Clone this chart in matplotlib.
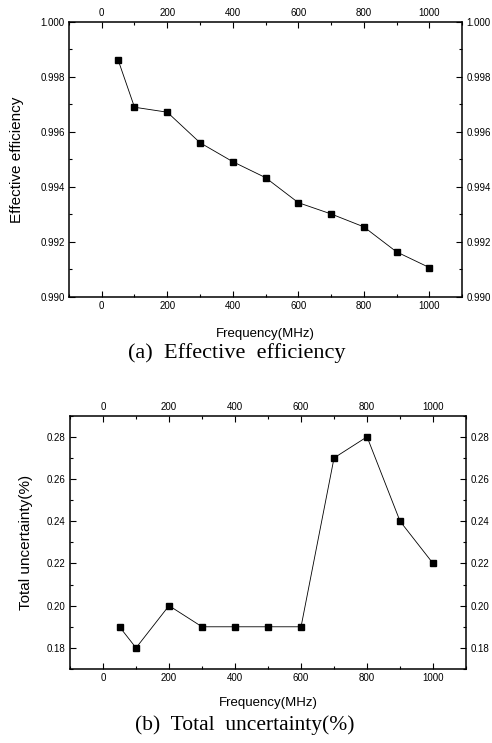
import matplotlib
matplotlib.use("Agg")
import matplotlib.pyplot as plt
from matplotlib.ticker import MultipleLocator

plt.rcParams["font.family"] = ["Liberation Sans", "DejaVu Sans"]

freq = [50, 100, 200, 300, 400, 500, 600, 700, 800, 900, 1000]
efficiency = [0.99862, 0.99690, 0.99672, 0.99561, 0.99492, 0.99434,
              0.99343, 0.99302, 0.99255, 0.99164, 0.99107]
uncertainty = [0.19, 0.18, 0.20, 0.19, 0.19, 0.19, 0.19, 0.27, 0.28, 0.24, 0.22]


def style_axes(ax, ymajor, yminor, yfmt, xpad):
    ax.set_xlim(-100, 1100)
    ax.xaxis.set_major_locator(MultipleLocator(200))
    ax.xaxis.set_minor_locator(MultipleLocator(100))
    ax.yaxis.set_major_locator(MultipleLocator(ymajor))
    ax.yaxis.set_minor_locator(MultipleLocator(yminor))
    ax.yaxis.set_major_formatter(plt.FuncFormatter(lambda v, p: yfmt.format(v)))
    ax.tick_params(which="both", direction="in", top=True, right=True,
                   labeltop=True, labelright=True, labelsize=7, pad=3)
    ax.tick_params(which="major", length=4, width=0.8)
    ax.tick_params(which="minor", length=2, width=0.8)
    for sp in ax.spines.values():
        sp.set_linewidth(1.1)
    ax.set_xlabel("Frequency(MHz)", fontsize=9.5, labelpad=xpad)


fig = plt.figure(figsize=(4.92, 7.43), dpi=100)

ax1 = fig.add_axes([0.1402, 0.6003, 0.799, 0.3701])
ax1.plot(freq, efficiency, color="black", lw=0.6, marker="s", ms=4.2)
ax1.set_ylim(0.990, 1.000)
style_axes(ax1, 0.002, 0.001, "{:.3f}", 12)
ax1.set_ylabel("Effective efficiency", fontsize=11, labelpad=12)
fig.text(0.482, 0.525, "(a)  Effective  efficiency", ha="center", va="center",
         fontsize=16, family="Liberation Serif")

ax2 = fig.add_axes([0.1423, 0.0996, 0.805, 0.3409])
ax2.plot(freq, uncertainty, color="black", lw=0.6, marker="s", ms=4.2)
ax2.set_ylim(0.17, 0.29)
style_axes(ax2, 0.02, 0.01, "{:.2f}", 10)
ax2.set_ylabel("Total uncertainty(%)", fontsize=11, labelpad=10)
fig.text(0.497, 0.024, "(b)  Total  uncertainty(%)", ha="center", va="center",
         fontsize=15.5, family="Liberation Serif")

fig.savefig("out.png", dpi=100)
